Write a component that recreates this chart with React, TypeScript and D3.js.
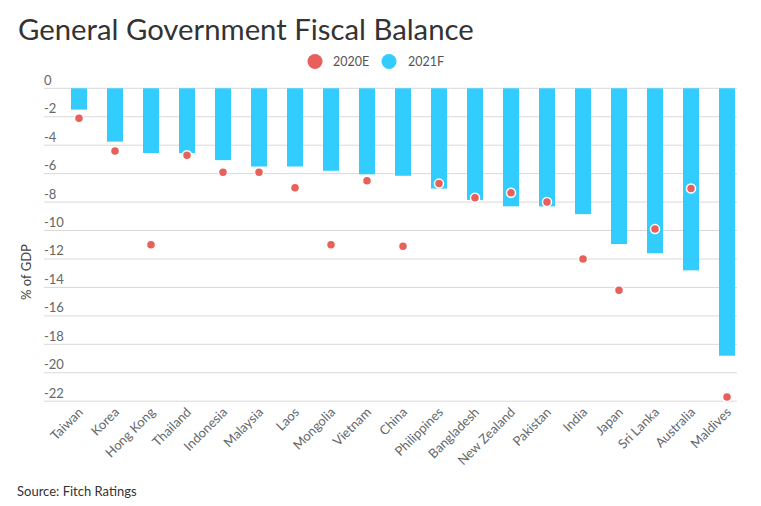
import React from "react";
import * as d3 from "d3";

const categories = ["Taiwan","Korea","Hong Kong","Thailand","Indonesia","Malaysia","Laos","Mongolia","Vietnam","China","Philippines","Bangladesh","New Zealand","Pakistan","India","Japan","Sri Lanka","Australia","Maldives"];
const values2020E = [-2.1,-4.4,-11.0,-4.7,-5.9,-5.9,-7.0,-11.0,-6.5,-11.1,-6.7,-7.7,-7.35,-8.0,-12.0,-14.2,-9.9,-7.05,-21.7];
const values2021F = [-1.5,-3.75,-4.55,-4.55,-5.05,-5.5,-5.5,-5.8,-6.05,-6.15,-7.05,-7.85,-8.3,-8.3,-8.85,-10.95,-11.6,-12.8,-18.8];
const yTicks = [0,-2,-4,-6,-8,-10,-12,-14,-16,-18,-20,-22];
const seriesNames = ["2020E","2021F"];
const RED = "#e8605a";
const BLUE = "#33ccff";

export default function App() {
  const W = 761, H = 506;
  const plotLeft = 44, plotRight = 737;
  const y = d3.scaleLinear().domain([0, -22]).range([88.3, 401.2]);
  const x = d3.scaleBand().domain(categories).range([61, 745]).paddingInner(0).paddingOuter(0);
  const barW = 16;
  const font = "Lato, 'Open Sans', sans-serif";
  return (
    <svg width={W} height={H} style={{ position: "absolute", left: 0, top: 0, fontFamily: font }}>
      <rect width={W} height={H} fill="#fff" />
      <text x={18} y={39.5} fontSize={29.3} fill="#333">General Government Fiscal Balance</text>
      {/* legend */}
      <circle cx={315} cy={61.5} r={7.5} fill={RED} />
      <text x={333} y={66} fontSize={12.5} fill="#555">{seriesNames[0]}</text>
      <circle cx={389} cy={61.5} r={7.5} fill={BLUE} />
      <text x={408} y={66} fontSize={12.5} fill="#555">{seriesNames[1]}</text>
      {/* grid */}
      {yTicks.map((t) => (
        <g key={t}>
          <line x1={plotLeft} x2={plotRight} y1={y(t)} y2={y(t)} stroke="#d9d9d9" strokeWidth={1} />
          <text x={44} y={y(t) - 3.5} fontSize={13} fill="#666">{t === 0 ? "0" : String(t)}</text>
        </g>
      ))}
      <text transform={`translate(31,272) rotate(-90)`} textAnchor="middle" fontSize={13} fill="#444">% of GDP</text>
      {/* bars */}
      {categories.map((c, i) => {
        const cx = (x(c) as number) + x.bandwidth() / 2;
        return <rect key={c} x={cx - barW / 2} y={y(0)} width={barW} height={y(values2021F[i]) - y(0)} fill={BLUE} />;
      })}
      {/* dots */}
      {categories.map((c, i) => {
        const cx = (x(c) as number) + x.bandwidth() / 2;
        return <circle key={c} cx={cx} cy={y(values2020E[i])} r={4.5} fill={RED} stroke="#fff" strokeWidth={1.5} />;
      })}
      {/* x labels */}
      {categories.map((c) => {
        const cx = (x(c) as number) + x.bandwidth() / 2;
        return (
          <text key={c} transform={`translate(${cx + 5},${413}) rotate(-45)`} textAnchor="end" fontSize={13} fill="#666">{c}</text>
        );
      })}
      <text x={17} y={496} fontSize={13} fill="#333">Source: Fitch Ratings</text>
    </svg>
  );
}
